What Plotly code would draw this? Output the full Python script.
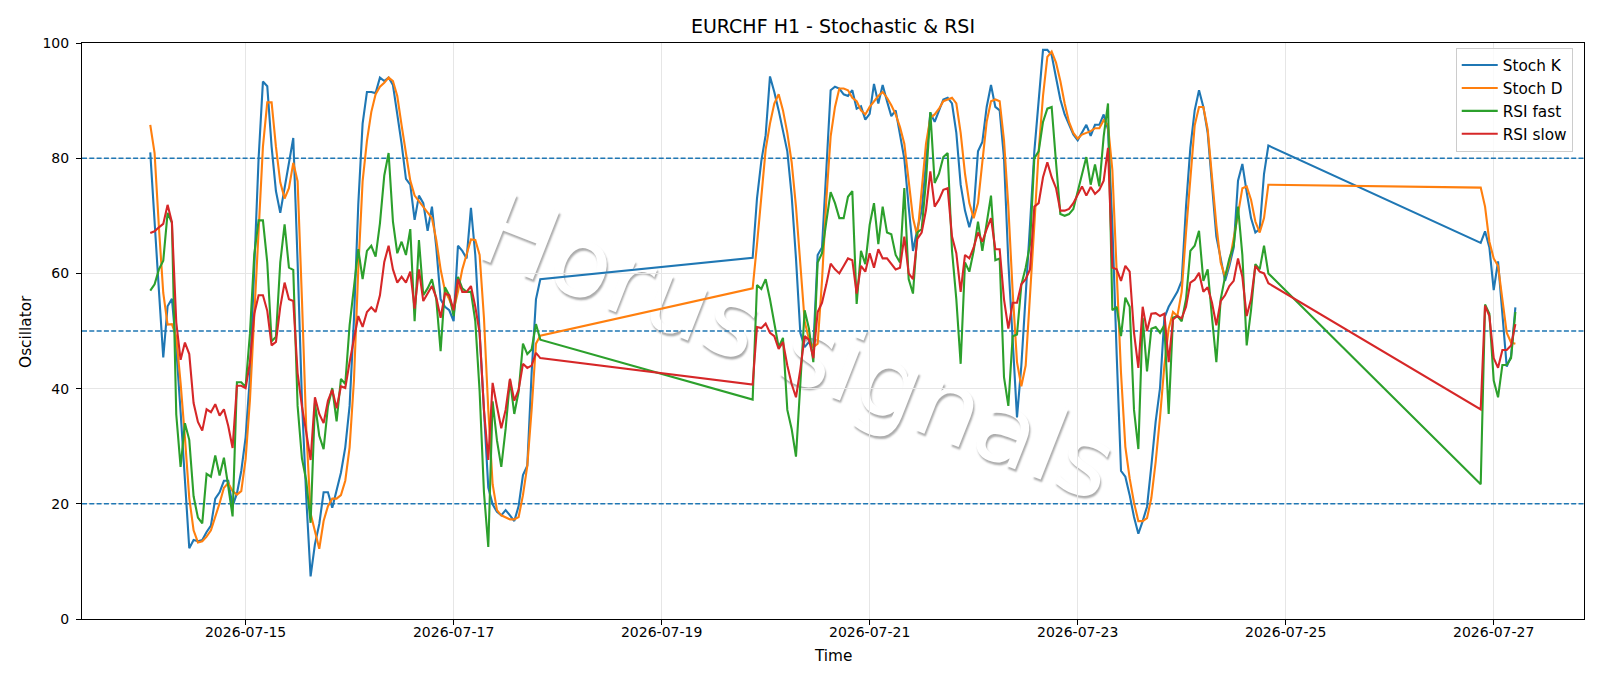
import pandas as pd
import plotly.graph_objects as go

# ---- time segments (hourly bars, weekend gaps) ----
seg_bounds = [("2026-07-14 02:00", "2026-07-17 20:00"),
              ("2026-07-19 21:00", "2026-07-24 20:00"),
              ("2026-07-26 21:00", "2026-07-27 05:00")]

# ---- series values, segment 1 (07-14 02:00 .. 07-17 20:00) ----
stoch_k_1 = [81.0, 68, 57, 45.4, 54.3, 55.6, 47, 36, 24.5, 12.3,
             13.7, 13.5, 13.7, 15.1, 16.2, 20.9, 22, 24, 24, 19.6,
             21.8, 25.7, 31.5, 42, 61, 80, 93.3, 92.5, 82, 74.3,
             70.5, 74.8, 79.2, 83.5, 62, 38, 21, 7.4, 13, 16.5,
             22, 22, 19.3, 22.5, 25.4, 29.8, 37, 52, 72, 86,
             91.5, 91.5, 91.3, 94, 93.4, 94, 92.7, 87.6, 82.5, 76.4,
             75.4, 69.3, 73.5, 72.2, 67.4, 71.6, 64.5, 55.5, 54.2, 53.6,
             51.7, 64.8, 63.9, 62.6, 71.4, 63.2, 50.4, 36.3, 22.8, 19.9,
             18.6, 18, 18.9, 18, 17, 19.6, 25, 26.6, 42.7, 55.5,
             59]
stoch_d_1 = [85.8, 80.9, 68, 56.6, 51.1, 51.2, 49, 41, 31.5, 21,
             15.4, 13.3, 13.5, 14.3, 15.4, 17.7, 20.1, 22.8, 23.6, 22.2,
             21.6, 22.2, 27.7, 38, 52, 68, 82, 89.7, 89.7, 82,
             75.8, 73, 74.8, 79.2, 76, 55.5, 33, 18.3, 15.1, 12.2,
             17, 19.6, 20.9, 20.9, 21.5, 24, 29.8, 41.4, 60.7, 76,
             83, 88, 91.1, 92.4, 93.1, 94, 93.4, 90.8, 85.7, 81.2,
             76.1, 73.5, 72.5, 71.6, 70.6, 69.6, 65.8, 60.7, 57, 55.5,
             53.6, 56.8, 60.7, 63.2, 65.9, 65.8, 63.2, 52.3, 36.3, 23.4,
             18.9, 18, 17.7, 17.3, 17.3, 17.7, 21.5, 26.6, 36.3, 47.8,
             49.2]
rsi_fast_1 = [57, 58.1, 60.7, 62.2, 70.5, 68.8, 35.5, 26.4, 34, 31.1,
              21.3, 17.6, 16.6, 25.2, 24.7, 28.4, 24.9, 28, 23, 17.8,
              41.1, 41.1, 40.3, 49.5, 63.3, 69.2, 69.2, 61.9, 48.2, 49,
              61.9, 68.5, 61, 60.6, 37, 27.9, 24, 16.7, 37.5, 31.8,
              29.5, 36.9, 40.1, 34.3, 41.7, 40.8, 51, 58, 64.2, 59,
              63.9, 64.8, 62.9, 68.7, 77, 80.9, 69, 63.5, 65.5, 63.2,
              67.7, 51.7, 65.8, 56.2, 57.4, 59, 55.5, 46.5, 57.6, 56.2,
              52.6, 59.4, 57.4, 56.8, 56.8, 51.7, 39.5, 22, 12.5, 37.8,
              31, 26.4, 33, 41.5, 35.6, 39.5, 47.8, 46, 46.8, 51.2,
              48.5]
rsi_slow_1 = [67, 67.3, 68, 68.6, 71.9, 68.9, 51.5, 45, 48, 46,
              37.5, 34.2, 32.7, 36.4, 35.9, 37.3, 35.3, 36.4, 33.5, 29.7,
              40.5, 40.5, 40.1, 44.5, 53, 56.2, 56.2, 53.5, 47.5, 48.1,
              54.2, 58.4, 55.5, 55.2, 42.7, 36.9, 32.4, 27.6, 38.5, 35.6,
              34, 37.9, 39.8, 36.6, 40.4, 40.1, 44.6, 48.5, 52.6, 50.7,
              53.3, 54.1, 53.3, 56.2, 62, 64.8, 60.7, 58.4, 59.4, 58.4,
              60.3, 53.9, 60.7, 55.2, 56.5, 57.8, 55.8, 52.3, 56.5, 56.2,
              53.6, 59, 56.8, 56.8, 57.8, 54.2, 49.7, 36.3, 27.6, 41,
              36.9, 33.1, 36.3, 41.7, 37.9, 39.8, 44.3, 43.6, 44, 46.2,
              45.3]

# ---- segment 2 (07-19 21:00 .. 07-24 20:00) ----
stoch_k_2 = [62.7, 73, 79.5, 84, 94.2, 91.5, 88.3, 85, 81.2, 73.5,
             62.6, 49.7, 47.2, 48.1, 47.2, 63.2, 64.5, 78, 91.8, 92.4,
             92.1, 91.1, 90.8, 91.8, 88.6, 89, 86.7, 87.7, 92.9, 89.5,
             92.7, 89.9, 87.3, 88.3, 83.8, 79.9, 71.6, 63.9, 67.7, 70.9,
             79.3, 87.9, 86.3, 88.3, 90.2, 90.5, 89.5, 84.4, 75.4, 70.9,
             68, 70.9, 81.2, 82.8, 88.9, 92.7, 88.9, 88.3, 80, 62,
             49, 35, 44, 55.5, 68.4, 81.2, 90.8, 98.8, 98.8, 97.9,
             94, 90.2, 87.6, 85.7, 84.1, 83.1, 84.4, 85.8, 83.9, 85.8,
             85.8, 87.6, 85, 68.4, 45.9, 25.7, 24.7, 21.5, 17.7, 14.8,
             17, 19.5, 26.6, 34.3, 40.1, 52.3, 54.2, 55.5, 56.8, 58.7,
             71.6, 81.8, 88.3, 91.8, 88.9, 84.4, 75.4, 66.4, 62.6, 58.7,
             61.3, 64.5, 76.1, 79, 74.1, 69.6, 67.1, 67.7, 77.3, 82.2]
stoch_d_2 = [57.4, 65, 74, 81.5, 86, 89.5, 91.1, 88.3, 84.4, 79.3,
             71.6, 61.9, 51.7, 48.5, 47.2, 47.8, 58.7, 72.8, 83.8, 88.9,
             92.1, 92.1, 91.8, 90.5, 89.9, 88.3, 87.6, 88.9, 89.9, 90.8,
             91.5, 90.5, 89.2, 87.6, 85.4, 82.5, 76.1, 69.6, 66.4, 74.8,
             82.5, 87, 87.6, 88.6, 89.9, 90.2, 90.5, 89.5, 84.4, 77.3,
             72.2, 69.6, 72.2, 79.3, 86.3, 89.9, 90.2, 89.9, 83.1, 71.6,
             56.8, 44.6, 40.4, 44, 55.5, 68.4, 81.2, 90.8, 97.6, 98.5,
             96.6, 93.4, 89.5, 86.3, 84.4, 83.4, 84.1, 84.4, 84.7, 85.2,
             85.2, 86.6, 85.7, 78, 60.7, 42.7, 29.9, 24.4, 20.2, 17,
             17, 17.5, 21, 27.3, 35, 44, 50.4, 53.3, 52.6, 56.8,
             67.1, 76.1, 85.7, 88.9, 88.9, 85, 76.7, 68.4, 61.9, 59.4,
             61.9, 65.8, 70.3, 74.8, 75.1, 72.8, 69, 67.1, 69.6, 75.4]
rsi_fast_2 = [38.1, 58, 57.3, 59, 55.5, 51, 47.2, 48.8, 36.3, 33,
              28.2, 40.8, 53.6, 50.4, 44.6, 61.9, 63.5, 69, 74.1, 72.2,
              69.6, 69.6, 73.3, 74.3, 54.7, 63.9, 61.6, 68.4, 72.2, 65.1,
              71.6, 67.1, 66.8, 63.2, 61.9, 74.8, 59, 56.5, 67.1, 67.7,
              76, 88, 75.7, 77.3, 80.2, 80.9, 64, 55.5, 44.3, 61.9,
              60.3, 63.9, 69, 63.9, 68.4, 73.5, 62.3, 62.6, 42, 37,
              49.1, 49.4, 58, 61, 65, 80, 81.2, 86.3, 88.6, 88.9,
              79.3, 70.3, 70, 70.3, 71.2, 74.1, 77.3, 80.2, 75.4, 78.9,
              75.1, 83.8, 89.5, 53.6, 54.2, 49.1, 55.8, 54.2, 36.3, 29.5,
              52.3, 43, 50.4, 50.7, 49.7, 51, 35.6, 52.3, 52.6, 51.7,
              55.5, 63.9, 64.8, 67.4, 58.7, 60.7, 52.3, 44.6, 55.5, 59.4,
              62.6, 64.8, 71.6, 63.2, 47.5, 53.6, 61.6, 60.7, 64.8, 60]
rsi_slow_2 = [40.7, 50.7, 50.5, 51.3, 49.7, 49.1, 46.9, 48.1, 44, 40.8,
              38.5, 43.3, 49.1, 48.5, 45.3, 53.3, 54.9, 58.1, 61.7, 60.7,
              60, 61.3, 62.6, 62.3, 56.5, 61.3, 60.3, 63.5, 61, 64.2,
              62.6, 62.6, 61.6, 60.7, 61, 66.4, 60, 59, 66, 67.1,
              71, 77.7, 71.6, 72.8, 74.5, 74.8, 66.4, 63.5, 56.8, 63.2,
              62.6, 64.5, 67.1, 65.5, 67.7, 69.6, 64.2, 64.2, 55.5, 50.4,
              54.9, 54.9, 58.1, 59, 60.7, 71.6, 72.2, 76.7, 79.3, 76.7,
              74.8, 70.9, 70.9, 71.2, 72.2, 73.8, 75.1, 73.5, 75, 73.8,
              74.5, 76.1, 81.8, 61, 60.7, 58.7, 61.3, 60.3, 49.7, 43.6,
              54.2, 50, 53, 53.1, 52.6, 53, 44.6, 52, 52.6, 52.2,
              54.2, 58.4, 58.9, 60.1, 56.8, 57.6, 54.9, 51, 55.2, 56.2,
              57.8, 58.7, 62.6, 59.4, 52.6, 55.5, 61.3, 60.3, 60, 58.3]

# ---- segment 3 (07-26 21:00 .. 07-27 05:00) ----
stoch_k_3 = [65.3, 67.3, 64.5, 57.1, 62.1, 53, 43.8, 45.6, 54.1]
stoch_d_3 = [74.9, 71.6, 65.5, 62.6, 61.3, 55.5, 49.7, 48, 47.8]
rsi_fast_3 = [23.4, 54.6, 53, 41.4, 38.5, 44.1, 44.1, 45.3, 53.3]
rsi_slow_3 = [36.4, 54.4, 52.6, 45.3, 43.6, 46.7, 46.7, 47.5, 51.2]

levels = [20, 50, 80]
tick_dates = ["2026-07-15", "2026-07-17", "2026-07-19", "2026-07-21",
              "2026-07-23", "2026-07-25", "2026-07-27"]
x_range = ["2026-07-13 10:15", "2026-07-27 20:50"]
series_names = ["Stoch K", "Stoch D", "RSI fast", "RSI slow"]
series_colors = ["#1f77b4", "#ff7f0e", "#2ca02c", "#d62728"]

times = []
for a, b in seg_bounds:
    times += list(pd.date_range(a, b, freq="h"))

series = [stoch_k_1 + stoch_k_2 + stoch_k_3,
          stoch_d_1 + stoch_d_2 + stoch_d_3,
          rsi_fast_1 + rsi_fast_2 + rsi_fast_3,
          rsi_slow_1 + rsi_slow_2 + rsi_slow_3]

FONT = "DejaVu Sans"
fig = go.Figure()

# watermark, placed beneath the data (shape label in the 'below' layer)
wx = (800 - 81.6) / 1502.4
wy = (618.7 - 340) / 575.8
fig.add_shape(type="rect", xref="paper", yref="paper",
              x0=wx - 0.01, x1=wx + 0.01, y0=wy - 0.01, y1=wy + 0.01,
              line=dict(width=0), fillcolor="rgba(0,0,0,0)", layer="below",
              label=dict(text="Horus signals", textangle=21.5, textposition="middle center",
                         font=dict(family=FONT, size=100, color="white",
                                   shadow="2px 2px 2px rgba(0,0,0,0.33)")))

# reference levels (dashed)
for lv in levels:
    fig.add_trace(go.Scatter(x=x_range, y=[lv, lv], mode="lines", showlegend=False,
                             hoverinfo="skip",
                             line=dict(color="#1f77b4", width=1.4, dash="5px,2.3px")))

for name, col, vals in zip(series_names, series_colors, series):
    fig.add_trace(go.Scatter(x=times, y=vals, mode="lines", name=name,
                             line=dict(color=col, width=2.1)))

axis_common = dict(showline=True, linecolor="black", linewidth=1.1, mirror=True,
                   ticks="outside", ticklen=5, tickwidth=1.1, tickcolor="black",
                   showgrid=True, gridcolor="#e6e6e6", gridwidth=1,
                   zeroline=False,
                   tickfont=dict(family=FONT, size=14, color="black"))

fig.update_layout(
    width=1600, height=686,
    margin=dict(l=82, r=16, t=43, b=67),
    paper_bgcolor="white", plot_bgcolor="white",
    title=dict(text="EURCHF H1 - Stochastic & RSI", x=0.5, xref="paper",
               y=1 - 26.5 / 686, yref="container", yanchor="middle",
               font=dict(family=FONT, size=19, color="black")),
    xaxis=dict(range=x_range, type="date", ticklabelstandoff=-5,
               tickvals=tick_dates, tickformat="%Y-%m-%d", **axis_common),
    yaxis=dict(range=[0, 100], tickvals=[0, 20, 40, 60, 80, 100],
               ticklabelstandoff=4, **axis_common),
    legend=dict(x=0.9925, xanchor="right", y=0.992, yanchor="top",
                bgcolor="rgba(255,255,255,0.8)", bordercolor="#cccccc", borderwidth=1,
                font=dict(family=FONT, size=15.3, color="black"), itemwidth=36,
                tracegroupgap=0),
    showlegend=True,
)

# axis titles
fig.add_annotation(text="Time", xref="paper", yref="paper", x=0.5, y=(618.7 - 656) / 575.8,
                   xanchor="center", yanchor="middle", showarrow=False,
                   font=dict(family=FONT, size=15.3, color="black"))
fig.add_annotation(text="Oscillator", xref="paper", yref="paper", x=(25.5 - 81.6) / 1502.4, y=0.5,
                   xanchor="center", yanchor="middle", showarrow=False, textangle=-90,
                   font=dict(family=FONT, size=15.3, color="black"))

fig.write_html("out.html")
